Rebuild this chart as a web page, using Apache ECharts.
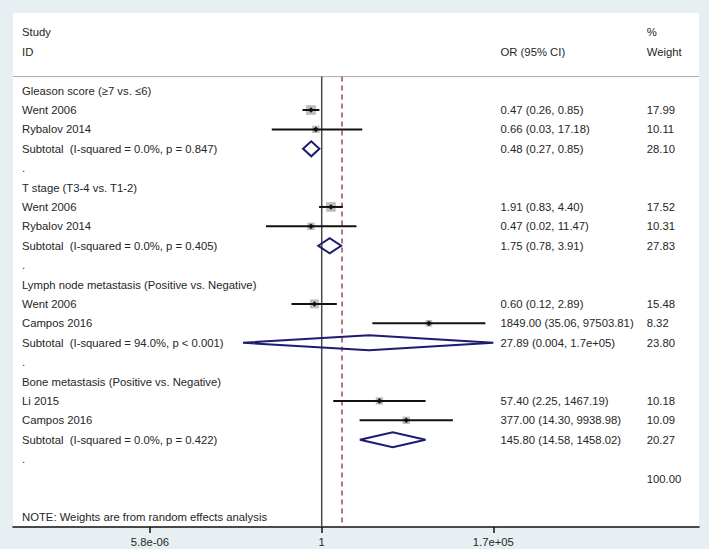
<!DOCTYPE html>
<html><head><meta charset="utf-8">
<script src="https://cdn.jsdelivr.net/npm/echarts@6/dist/echarts.min.js"></script>
<style>html,body{margin:0;padding:0;background:#e8eff2;} #c{width:709px;height:549px;}</style>
</head><body><div id="c"></div>
<script>
// ---------------- data ----------------
const headerRows = [-3, -2];
const headerStudy = ["Study", "ID"];
const headerOR = ["", "OR (95% CI)"];
const headerWeight = ["%", "Weight"];

const rowLabels = [
  "Gleason score (\u22657 vs. \u22646)", "Went 2006", "Rybalov 2014", "Subtotal\u00a0 (I-squared = 0.0%, p = 0.847)", ".",
  "T stage (T3-4 vs. T1-2)", "Went 2006", "Rybalov 2014", "Subtotal\u00a0 (I-squared = 0.0%, p = 0.405)", ".",
  "Lymph node metastasis (Positive vs. Negative)", "Went 2006", "Campos 2016", "Subtotal\u00a0 (I-squared = 94.0%, p < 0.001)", ".",
  "Bone metastasis (Positive vs. Negative)", "Li 2015", "Campos 2016", "Subtotal\u00a0 (I-squared = 0.0%, p = 0.422)", ".",
  "", "", "NOTE: Weights are from random effects analysis"
];
const orText = [
  "", "0.47 (0.26, 0.85)", "0.66 (0.03, 17.18)", "0.48 (0.27, 0.85)", "",
  "", "1.91 (0.83, 4.40)", "0.47 (0.02, 11.47)", "1.75 (0.78, 3.91)", "",
  "", "0.60 (0.12, 2.89)", "1849.00 (35.06, 97503.81)", "27.89 (0.004, 1.7e+05)", "",
  "", "57.40 (2.25, 1467.19)", "377.00 (14.30, 9938.98)", "145.80 (14.58, 1458.02)", "",
  "", "", ""
];
const weightText = [
  "", "17.99", "10.11", "28.10", "",
  "", "17.52", "10.31", "27.83", "",
  "", "15.48", "8.32", "23.80", "",
  "", "10.18", "10.09", "20.27", "",
  "100.00", "", ""
];

const studyRows   = [1, 2, 6, 7, 11, 12, 16, 17];
const studyOR     = [0.47, 0.66, 1.91, 0.47, 0.60, 1849.00, 57.40, 377.00];
const studyLo     = [0.26, 0.03, 0.83, 0.02, 0.12, 35.06, 2.25, 14.30];
const studyHi     = [0.85, 17.18, 4.40, 11.47, 2.89, 97503.81, 1467.19, 9938.98];
const studyWeight = [17.99, 10.11, 17.52, 10.31, 15.48, 8.32, 10.18, 10.09];

const subRows   = [3, 8, 13, 18];
const subOR     = [0.48, 1.75, 27.89, 145.80];
const subLo     = [0.27, 0.78, 0.004, 14.58];
const subHi     = [0.85, 3.91, 1.7e5, 1458.02];
const subWeight = [28.10, 27.83, 23.80, 20.27];

const nullOR = 1;
const overallOR = 4.16;

const tickValues = [5.8e-6, 1, 1.7e5];
const tickLabels = ["5.8e-06", "1", "1.7e+05"];

// ---------------- layout / style ----------------
const FONT = "Liberation Sans, Arial, Helvetica, sans-serif";
const FS = 11.3;
const TXT = "#262626";
const COL_STUDY = 22, COL_OR = 500.5, COL_W = 646.7;
const SEP_ROW = -0.72, AXIS_ROW = 22.5;
const L = Math.log10;

const chart = echarts.init(document.getElementById('c'), null, {renderer: 'svg'});

function textItem(x, y, t) {
  return {type: 'text', x: x, y: y, style: {text: t, fill: TXT, fontSize: FS, fontFamily: FONT, verticalAlign: 'middle', align: 'left'}};
}

const textRows = rowLabels.map((_, i) => [0, i]);
const headerData = headerRows.map(r => [0, r]);

const option = {
  backgroundColor: '#e8eff2',
  animation: false,
  grid: {left: 13, right: 10, top: 13, bottom: 22, show: true, backgroundColor: '#ffffff', borderWidth: 0},
  xAxis: {
    type: 'value', min: -9.41, max: 11.5,
    splitLine: {show: false},
    axisLine: {show: true, onZero: false, lineStyle: {color: '#111', width: 1.6}},
    axisTick: {show: true, length: 6, lineStyle: {color: '#111', width: 1.5}, customValues: tickValues.map(L)},
    axisLabel: {
      show: true, margin: 9, color: TXT, fontSize: FS, fontFamily: FONT,
      customValues: tickValues.map(L),
      formatter: function (v) {
        let best = 0, bd = Infinity;
        tickValues.forEach((t, i) => { const d = Math.abs(L(t) - v); if (d < bd) { bd = d; best = i; } });
        return tickLabels[best];
      }
    }
  },
  yAxis: {type: 'value', min: -4, max: AXIS_ROW, inverse: true, show: false, splitLine: {show: false}},
  series: [
    { // separator + reference lines
      type: 'custom', silent: true, z: 1,
      data: [[0]],
      renderItem: function (params, api) {
        const yS = api.coord([0, SEP_ROW])[1];
        const yE = api.coord([0, AXIS_ROW])[1];
        const xL = params.coordSys.x, xR = params.coordSys.x + params.coordSys.width;
        const xn = api.coord([L(nullOR), 0])[0];
        const xo = api.coord([L(overallOR), 0])[0];
        return {type: 'group', children: [
          {type: 'line', shape: {x1: xL, y1: yS, x2: xR, y2: yS}, style: {stroke: '#a8a8a8', lineWidth: 1}},
          {type: 'line', shape: {x1: xn, y1: yS, x2: xn, y2: yE}, style: {stroke: '#4a4a4a', lineWidth: 1.5}},
          {type: 'line', shape: {x1: xo, y1: yS, x2: xo, y2: yE}, style: {stroke: '#9a4b5a', lineWidth: 1.5, lineDash: [5, 4]}}
        ]};
      }
    },
    { // studies
      type: 'custom', silent: true, z: 3,
      data: studyRows.map((r, i) => [L(studyOR[i]), r, L(studyLo[i]), L(studyHi[i]), studyWeight[i]]),
      renderItem: function (params, api) {
        const c = api.coord([api.value(0), api.value(1)]);
        const xl = api.coord([api.value(2), api.value(1)])[0];
        const xh = api.coord([api.value(3), api.value(1)])[0];
        const s = 2.3 * Math.sqrt(api.value(4));
        const d = 2.8;
        return {type: 'group', children: [
          {type: 'rect', shape: {x: c[0] - s / 2, y: c[1] - s / 2, width: s, height: s}, style: {fill: '#bdbdbd'}},
          {type: 'line', shape: {x1: xl, y1: c[1], x2: xh, y2: c[1]}, style: {stroke: '#111', lineWidth: 2}},
          {type: 'polygon', shape: {points: [[c[0] - d, c[1]], [c[0], c[1] - d], [c[0] + d, c[1]], [c[0], c[1] + d]]}, style: {fill: '#111'}}
        ]};
      }
    },
    { // subtotal diamonds
      type: 'custom', silent: true, z: 3,
      data: subRows.map((r, i) => [L(subOR[i]), r, L(subLo[i]), L(subHi[i])]),
      renderItem: function (params, api) {
        const c = api.coord([api.value(0), api.value(1)]);
        const xl = api.coord([api.value(2), api.value(1)])[0];
        const xh = api.coord([api.value(3), api.value(1)])[0];
        const h = 7.5;
        return {type: 'polygon', shape: {points: [[xl, c[1]], [c[0], c[1] - h], [xh, c[1]], [c[0], c[1] + h]]},
          style: {fill: 'none', stroke: '#1c1c70', lineWidth: 2}};
      }
    },
    { // table text
      type: 'custom', silent: true, z: 4,
      data: textRows,
      renderItem: function (params, api) {
        const i = params.dataIndex;
        const y = api.coord([0, api.value(1)])[1];
        return {type: 'group', children: [
          textItem(COL_STUDY, y, rowLabels[i]),
          textItem(COL_OR, y, orText[i]),
          textItem(COL_W, y, weightText[i])
        ]};
      }
    },
    { // headers
      type: 'custom', silent: true, z: 4,
      data: headerData,
      renderItem: function (params, api) {
        const i = params.dataIndex;
        const y = api.coord([0, api.value(1)])[1];
        return {type: 'group', children: [
          textItem(COL_STUDY, y, headerStudy[i]),
          textItem(COL_OR, y, headerOR[i]),
          textItem(COL_W, y, headerWeight[i])
        ]};
      }
    }
  ]
};
chart.setOption(option);
</script></body></html>
